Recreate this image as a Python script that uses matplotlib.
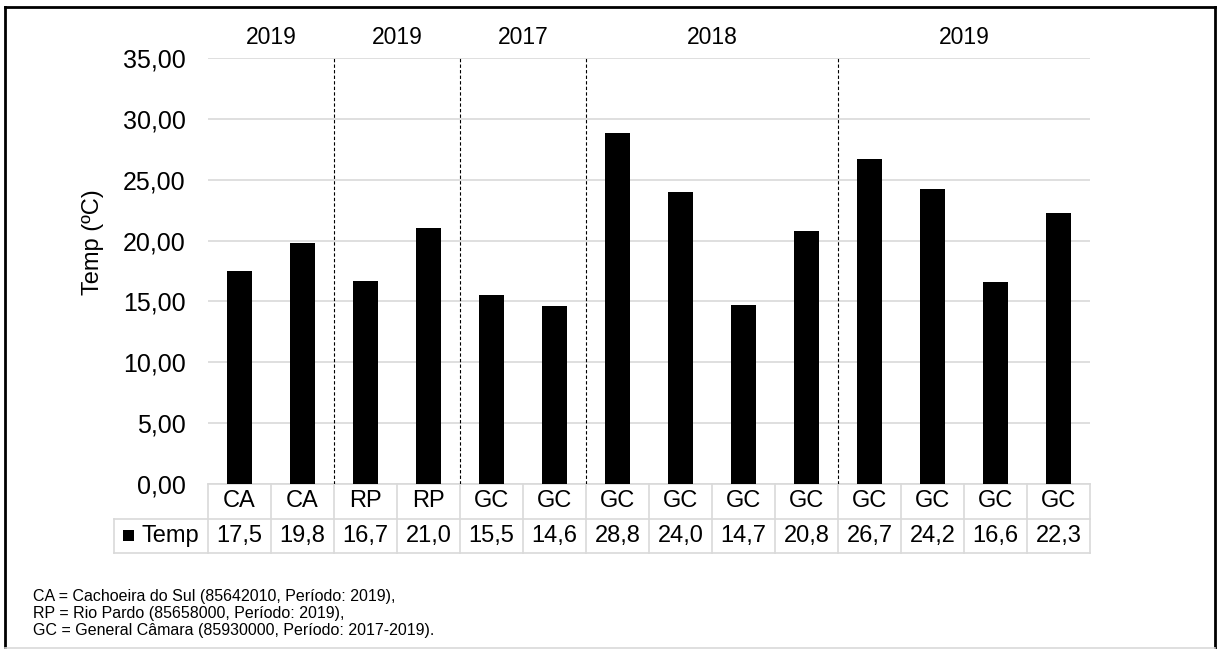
import matplotlib
matplotlib.use("Agg")
import matplotlib.pyplot as plt
from matplotlib.patches import Rectangle
from matplotlib.lines import Line2D
import matplotlib.transforms as mtransforms

plt.rcParams['font.family'] = ['Liberation Sans', 'DejaVu Sans']

categories = ["CA", "CA", "RP", "RP", "GC", "GC", "GC", "GC", "GC", "GC", "GC", "GC", "GC", "GC"]
temps = [17.5, 19.8, 16.7, 21.0, 15.5, 14.6, 28.8, 24.0, 14.7, 20.8, 26.7, 24.2, 16.6, 22.3]
temp_labels = ["17,5", "19,8", "16,7", "21,0", "15,5", "14,6", "28,8", "24,0", "14,7", "20,8", "26,7", "24,2", "16,6", "22,3"]
group_years = ["2019", "2019", "2017", "2018", "2019"]
group_sizes = [2, 2, 2, 4, 4]
yticks = [0, 5, 10, 15, 20, 25, 30, 35]
ytick_labels = ["0,00", "5,00", "10,00", "15,00", "20,00", "25,00", "30,00", "35,00"]
series_name = "Temp"
footnotes = [
    "CA = Cachoeira do Sul (85642010, Período: 2019),",
    "RP = Rio Pardo (85658000, Período: 2019),",
    "GC = General Câmara (85930000, Período: 2017-2019).",
]

W, H = 1219, 649
fig = plt.figure(figsize=(W / 100, H / 100), dpi=100)

# axes placement (pixels)
ax_l, ax_r, ax_t, ax_b = 208, 1090, 58, 484
ax = fig.add_axes([ax_l / W, 1 - ax_b / H, (ax_r - ax_l) / W, (ax_b - ax_t) / H])
ax_h = ax_b - ax_t

n = len(temps)
x = list(range(n))
ax.bar(x, temps, width=0.41, color="black", zorder=3)
ax.set_xlim(-0.5, n - 0.5)
ax.set_ylim(0, 35)
ax.set_yticks(yticks)
ax.set_yticklabels(ytick_labels, fontsize=18)
ax.tick_params(axis="y", length=0, pad=16)
ax.set_xticks([])
ax.grid(axis="y", color="#d9d9d9", linewidth=1.2, zorder=0)
for s in ax.spines.values():
    s.set_visible(False)
ax.set_ylabel("Temp (ºC)", fontsize=17)
ax.yaxis.set_label_coords((104 - ax_l) / (ax_r - ax_l), (ax_b - 242) / ax_h)

# group dividers and year labels
pos = 0
trans = mtransforms.blended_transform_factory(ax.transData, ax.transAxes)
for i, (yr, sz) in enumerate(zip(group_years, group_sizes)):
    center = pos + (sz - 1) / 2
    ax.text(center, 1 + (58 - 38) / ax_h, yr, transform=trans, ha="center", va="center", fontsize=16.5)
    if i > 0:
        ax.axvline(pos - 0.5, color="black", linestyle=(0, (3, 2)), linewidth=0.8, zorder=2)
    pos += sz

# data table
row_h = 34.5 / ax_h  # in axes fraction
gc = "#d9d9d9"
px_per_unit = (ax_r - ax_l) / n
tbl_left_x = -0.5 - (ax_l - 114) / px_per_unit
lines = []
lines.append(([-0.5, n - 0.5], [0, 0]))
lines.append(([tbl_left_x, n - 0.5], [-row_h, -row_h]))
lines.append(([tbl_left_x, n - 0.5], [-2 * row_h, -2 * row_h]))
for k in range(n + 1):
    lines.append(([k - 0.5, k - 0.5], [0, -2 * row_h]))
lines.append(([tbl_left_x, tbl_left_x], [-row_h, -2 * row_h]))
for xs, ys in lines:
    ax.add_line(Line2D(xs, ys, transform=trans, color=gc, linewidth=1.2, clip_on=False, zorder=1))

for i in range(n):
    ax.text(i, -row_h / 2, categories[i], transform=trans, ha="center", va="center", fontsize=17)
    ax.text(i, -1.5 * row_h, temp_labels[i], transform=trans, ha="center", va="center", fontsize=17)

# legend key in table
sq_x0 = -0.5 - (ax_l - 123) / px_per_unit
sq_w = 11 / px_per_unit
ax.add_patch(Rectangle((sq_x0, -1.5 * row_h - 5.5 / ax_h), sq_w, 11 / ax_h, transform=trans,
                       facecolor="black", edgecolor="none", clip_on=False))
ax.text(-0.5 - (ax_l - 142) / px_per_unit, -1.5 * row_h, series_name, transform=trans,
        ha="left", va="center", fontsize=17)

# footnotes
for j, t in enumerate(footnotes):
    fig.text(33 / W, 1 - (597 + 16.5 * j) / H, t, ha="left", va="center", fontsize=11.5)

# outer border
bl, bt, br, bb = 5, 7, 1215, 648
fig.add_artist(Line2D([bl / W, bl / W], [1 - bt / H, 1 - bb / H], color="black", linewidth=2, transform=fig.transFigure))
fig.add_artist(Line2D([br / W, br / W], [1 - bt / H, 1 - bb / H], color="black", linewidth=2, transform=fig.transFigure))
fig.add_artist(Line2D([bl / W, br / W], [1 - bt / H, 1 - bt / H], color="black", linewidth=2, transform=fig.transFigure))
fig.add_artist(Line2D([bl / W, br / W], [1 - bb / H, 1 - bb / H], color="#d9d9d9", linewidth=1.2, transform=fig.transFigure))

fig.savefig("out.png", dpi=100, facecolor="white")
